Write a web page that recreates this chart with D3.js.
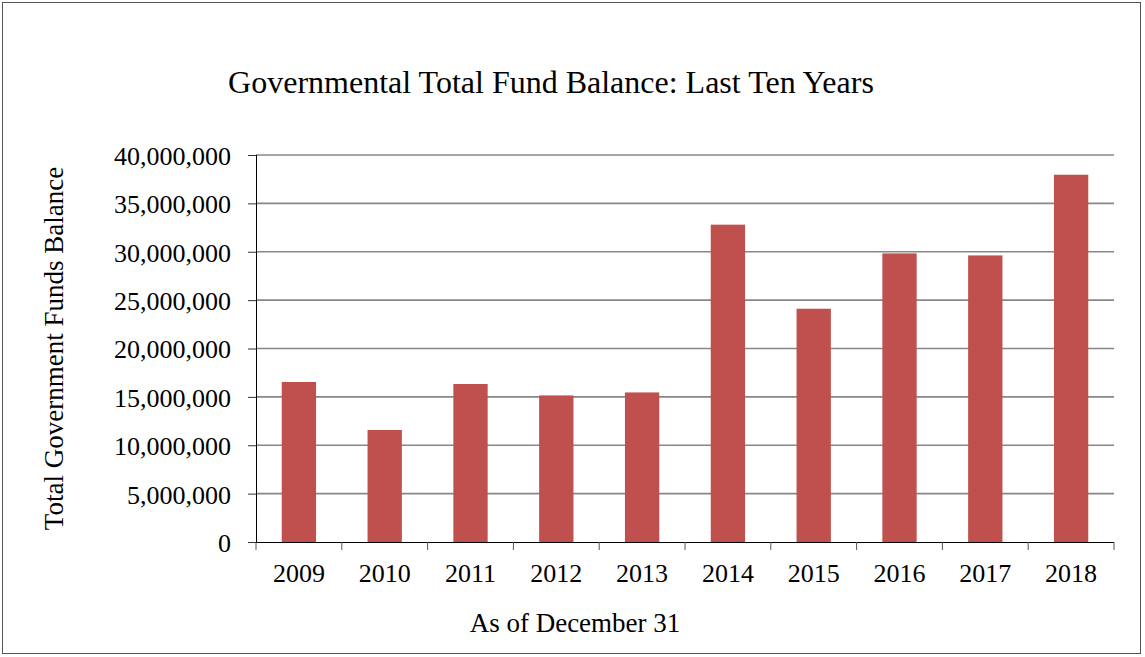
<!DOCTYPE html>
<html>
<head>
<meta charset="utf-8">
<script src="https://cdn.jsdelivr.net/npm/d3@7"></script>
<style>
  body { margin: 0; background: #fff; }
  svg text { font-family: "Liberation Serif", "Times New Roman", serif; fill: #000; }
</style>
</head>
<body>
<div id="chart"></div>
<script>
// data
var years = ["2009", "2010", "2011", "2012", "2013", "2014", "2015", "2016", "2017", "2018"];
var balances = [16540000, 11580000, 16330000, 15150000, 15460000, 32800000, 24110000, 29830000, 29620000, 37960000];
var yTicks = [0, 5000000, 10000000, 15000000, 20000000, 25000000, 30000000, 35000000, 40000000];

var chartTitle = "Governmental Total Fund Balance: Last Ten Years";
var yTitle = "Total Government Funds Balance";
var xTitle = "As of December 31";

var W = 1145, H = 657;
var margin = {top: 155, right: 31, bottom: 115, left: 256};
var width = W - margin.left - margin.right,
    height = H - margin.top - margin.bottom;

var svg = d3.select("#chart").append("svg")
    .attr("width", W)
    .attr("height", H);

// outer frame
svg.append("rect")
    .attr("x", 2.5).attr("y", 2.5)
    .attr("width", 1138).attr("height", 651)
    .attr("fill", "#fff")
    .attr("stroke", "#555")
    .attr("stroke-width", 1);

var g = svg.append("g")
    .attr("transform", "translate(" + margin.left + "," + margin.top + ")");

var x = d3.scaleBand()
    .domain(years)
    .range([0, width])
    .paddingInner(0.6)
    .paddingOuter(0.3);

var y = d3.scaleLinear()
    .domain([0, 40000000])
    .range([height, 0]);

// gridlines
g.selectAll(".grid")
    .data(yTicks.filter(function(d) { return d > 0; }))
  .enter().append("line")
    .attr("class", "grid")
    .attr("x1", 0).attr("x2", width)
    .attr("y1", function(d) { return y(d); })
    .attr("y2", function(d) { return y(d); })
    .attr("stroke", "#878787")
    .attr("stroke-width", 1.6);

// bars
g.selectAll(".bar")
    .data(balances)
  .enter().append("rect")
    .attr("class", "bar")
    .attr("x", function(d, i) { return x(years[i]); })
    .attr("y", function(d) { return y(d); })
    .attr("width", x.bandwidth())
    .attr("height", function(d) { return height - y(d); })
    .attr("fill", "#C0504D");

// y axis
var yAxis = d3.axisLeft(y)
    .tickValues(yTicks)
    .tickSize(8)
    .tickPadding(17)
    .tickFormat(d3.format(","));

var ya = g.append("g").attr("class", "y axis").call(yAxis);
ya.select(".domain").attr("stroke", "#000").attr("d", "M0.5," + height + "V0");
ya.selectAll(".tick line").attr("stroke", "#333");
ya.selectAll(".tick text")
    .style("font-size", "26px")
    .attr("dy", "0.36em");

// x axis
var xAxis = d3.axisBottom(x).tickSize(0).tickPadding(22);
var xa = g.append("g")
    .attr("class", "x axis")
    .attr("transform", "translate(0," + height + ")")
    .call(xAxis);
xa.select(".domain").attr("stroke", "#000").attr("d", "M0," + 0.5 + "H" + width);
xa.selectAll(".tick text")
    .style("font-size", "26px")
    .attr("dy", "0.71em");

// x tick marks between categories
var edges = years.map(function(d) { return x(d) - x.step() * x.paddingOuter(); });
edges.push(width);
xa.selectAll(".edge")
    .data(edges)
  .enter().append("line")
    .attr("class", "edge")
    .attr("x1", function(d) { return d; })
    .attr("x2", function(d) { return d; })
    .attr("y1", 0).attr("y2", 8)
    .attr("stroke", "#555");

// title
svg.append("text")
    .attr("x", 551)
    .attr("y", 93)
    .attr("text-anchor", "middle")
    .style("font-size", "32px")
    .text(chartTitle);

// y axis title
svg.append("text")
    .attr("transform", "translate(63," + (margin.top + height / 2) + ") rotate(-90)")
    .attr("text-anchor", "middle")
    .style("font-size", "27px")
    .text(yTitle);

// x axis title
svg.append("text")
    .attr("x", 575)
    .attr("y", 632)
    .attr("text-anchor", "middle")
    .style("font-size", "27px")
    .text(xTitle);
</script>
</body>
</html>
